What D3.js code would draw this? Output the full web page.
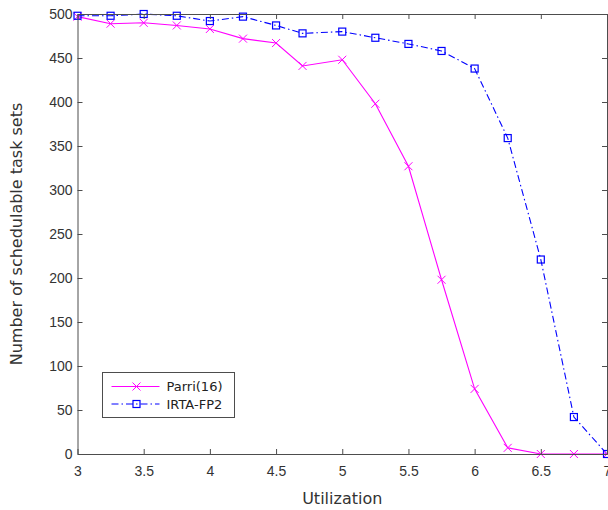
<!DOCTYPE html>
<html>
<head>
<meta charset="utf-8">
<script src="https://cdn.jsdelivr.net/npm/d3@7"></script>
<style>
  body { margin: 0; background: #fff; overflow: hidden; }
  svg { display: block; font-family: "DejaVu Sans", sans-serif; }
</style>
</head>
<body>
<svg id="chart" width="608" height="510"></svg>
<script>
// data
const utilization = [3, 3.25, 3.5, 3.75, 4, 4.25, 4.5, 4.7, 5, 5.25, 5.5, 5.75, 6, 6.25, 6.5, 6.75, 7];
const parri16 = [497, 489, 490, 487, 483, 472, 467, 441, 448, 398, 327, 198, 74, 7, 0, 0, 0];
const irtaFp2 = [498, 498, 500, 498, 492, 497, 487, 478, 480, 473, 466, 458, 438, 359, 221, 42, 0];
const xTicks = [3, 3.5, 4, 4.5, 5, 5.5, 6, 6.5, 7];
const yTicks = [0, 50, 100, 150, 200, 250, 300, 350, 400, 450, 500];

const width = 608, height = 510;
const marginLeft = 77.5, marginRight = 1, marginTop = 14, marginBottom = 56;
const axisColor = "#4d4d4d", textColor = "#333";

const svg = d3.select("#chart");

const x = d3.scaleLinear().domain([3, 7]).range([marginLeft, width - marginRight]);
const y = d3.scaleLinear().domain([0, 500]).range([height - marginBottom, marginTop]);

const series = [
  { name: "Parri(16)", values: parri16, color: "#ff00ff", dash: null, marker: "x" },
  { name: "IRTA-FP2", values: irtaFp2, color: "#0000ff", dash: "7,3,1.5,3", marker: "square" }
];

// lines
const line = d3.line().x(d => x(d[0])).y(d => y(d[1]));
series.forEach(s => {
  const pts = utilization.map((u, i) => [u, s.values[i]]);
  svg.append("path")
    .datum(pts)
    .attr("fill", "none")
    .attr("stroke", s.color)
    .attr("stroke-width", 1.1)
    .attr("stroke-dasharray", s.dash)
    .attr("d", line);
});

function drawMarker(g, type, color) {
  if (type === "x") {
    g.append("path").attr("d", "M-4,-4L4,4M-4,4L4,-4")
      .attr("stroke", color).attr("stroke-width", 1).attr("fill", "none");
  } else {
    g.append("rect").attr("x", -3.5).attr("y", -3.5).attr("width", 7).attr("height", 7)
      .attr("stroke", color).attr("stroke-width", 1.2).attr("fill", "none");
  }
}

// markers
series.forEach(s => {
  svg.append("g").selectAll("g")
    .data(utilization.map((u, i) => [u, s.values[i]]))
    .join("g")
    .attr("transform", d => `translate(${x(d[0])},${y(d[1])})`)
    .each(function () { drawMarker(d3.select(this), s.marker, s.color); });
});

// axes (MATLAB style: ticks inside, boxed)
const styleAxis = g => {
  g.select(".domain").attr("stroke", axisColor);
  g.selectAll(".tick line").attr("stroke", axisColor);
  g.selectAll(".tick text").attr("fill", textColor).attr("font-size", 14);
};

svg.append("g")
  .attr("transform", `translate(0,${height - marginBottom})`)
  .call(d3.axisBottom(x).tickValues(xTicks).tickFormat(d3.format("")).tickSizeInner(-5).tickSizeOuter(0).tickPadding(12))
  .call(styleAxis);

svg.append("g")
  .attr("transform", `translate(${marginLeft},0)`)
  .call(d3.axisLeft(y).tickValues(yTicks).tickSizeInner(-5).tickSizeOuter(0).tickPadding(5))
  .call(styleAxis);

svg.append("g")
  .attr("transform", `translate(0,${marginTop})`)
  .call(d3.axisTop(x).tickValues(xTicks).tickFormat("").tickSizeInner(-5).tickSizeOuter(0))
  .call(styleAxis);

svg.append("g")
  .attr("transform", `translate(${width - marginRight},0)`)
  .call(d3.axisRight(y).tickValues(yTicks).tickFormat("").tickSizeInner(-5).tickSizeOuter(0))
  .call(styleAxis);

// axis labels
svg.append("text")
  .attr("x", (marginLeft + width - marginRight) / 2)
  .attr("y", 504)
  .attr("text-anchor", "middle")
  .attr("fill", textColor)
  .attr("font-size", 16)
  .text("Utilization");

svg.append("text")
  .attr("transform", `translate(22,${(marginTop + height - marginBottom) / 2}) rotate(-90)`)
  .attr("text-anchor", "middle")
  .attr("fill", textColor)
  .attr("font-size", 16)
  .text("Number of schedulable task sets");

// legend
const legend = svg.append("g").attr("transform", "translate(102.5,372.5)");
legend.append("rect")
  .attr("width", 132).attr("height", 45)
  .attr("fill", "#fff").attr("stroke", axisColor).attr("stroke-width", 1);

const entries = legend.selectAll(".entry")
  .data(series)
  .join("g")
  .attr("class", "entry")
  .attr("transform", (d, i) => `translate(0,${14 + i * 17.5})`);

entries.append("line")
  .attr("x1", 9).attr("x2", 57)
  .attr("stroke", d => d.color)
  .attr("stroke-dasharray", d => d.dash);
entries.each(function (d) {
  const g = d3.select(this).append("g").attr("transform", "translate(34,0)");
  drawMarker(g, d.marker, d.color);
});
entries.append("text")
  .attr("x", 64)
  .attr("dy", "0.35em")
  .attr("fill", "#222")
  .attr("font-size", 13)
  .text(d => d.name);
</script>
</body>
</html>
